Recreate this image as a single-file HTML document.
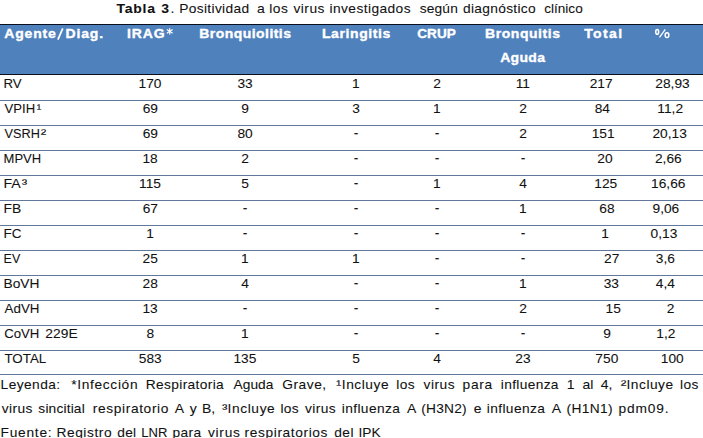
<!DOCTYPE html>
<html><head><meta charset="utf-8"><title>Tabla 3</title>
<style>
html,body{margin:0;padding:0;background:#fff;}
body{width:703px;height:438px;overflow:hidden;position:relative;font-family:"Liberation Sans",sans-serif;}
.hdr{position:absolute;left:0;top:25px;width:703px;height:49px;background:#4F81BD;}
.dk{position:absolute;left:0;width:703px;height:1px;background:#0a0f1e;}
.hl{position:absolute;left:0;width:703px;height:1px;background:#62789A;}
svg{position:absolute;left:0;top:0;}
svg text{font-family:"Liberation Sans",sans-serif;font-size:12.5px;fill:#111;stroke:#111;stroke-width:0.08px;}
svg text.w{fill:#fff;stroke:#fff;stroke-width:0.35px;}
</style></head><body>
<div class="hdr"></div>
<div class="dk" style="top:24px"></div>
<div class="dk" style="top:74px"></div>
<div class="hl" style="top:100px"></div><div class="hl" style="top:125px"></div><div class="hl" style="top:150px"></div><div class="hl" style="top:175px"></div><div class="hl" style="top:200px"></div><div class="hl" style="top:225px"></div><div class="hl" style="top:250px"></div><div class="hl" style="top:275px"></div><div class="hl" style="top:300px"></div><div class="hl" style="top:325px"></div><div class="hl" style="top:350px"></div><div class="hl" style="top:374px"></div>
<svg width="703" height="438" viewBox="0 0 703 438">
<g stroke="#fff" stroke-width="1.2"><line x1="169.7" y1="28.3" x2="169.7" y2="34.6"/><line x1="166.8" y1="29.6" x2="172.6" y2="33.2"/><line x1="172.6" y1="29.6" x2="166.8" y2="33.2"/></g>
<g fill="none" stroke="#fff"><ellipse cx="657.2" cy="31.9" rx="1.45" ry="2.35" stroke-width="1.55"/><ellipse cx="667" cy="35.15" rx="1.85" ry="2.3" stroke-width="1.5"/><line x1="665.3" y1="29.4" x2="659.5" y2="37.4" stroke-width="1.3"/></g>
<line x1="62.8" y1="28.3" x2="57.9" y2="39.7" stroke="#fff" stroke-width="1.7"/>
<text transform="translate(116.49 13.00) scale(1.1200 1)" font-weight="bold" letter-spacing="0.674">Tabla</text>
<text transform="translate(161.25 13.00) scale(1.1200 1)" font-weight="bold">3</text>
<text transform="translate(170.44 13.00) scale(1.1200 1)">.</text>
<text transform="translate(179.30 13.00) scale(1.1000 1)" letter-spacing="0.303">Positividad</text>
<text transform="translate(269.32 13.00) scale(1.1000 1)" letter-spacing="0.408">los</text>
<text transform="translate(293.40 13.00) scale(1.1000 1)" letter-spacing="0.469">virus</text>
<text transform="translate(329.52 13.00) scale(1.1000 1)" letter-spacing="0.383">investigados</text>
<text transform="translate(419.67 13.00) scale(1.1000 1)" letter-spacing="0.158">según</text>
<text transform="translate(463.05 13.00) scale(1.1000 1)" letter-spacing="0.280">diagnóstico</text>
<text transform="translate(544.26 13.00) scale(1.0847 1)">clínico</text>
<text transform="translate(256.90 13.00) scale(1.1200 1)">a</text>
<text transform="translate(4.36 38.00) scale(1.1200 1)" font-weight="bold" class="w" letter-spacing="0.693">Agente</text>
<text transform="translate(65.60 38.00) scale(1.1200 1)" font-weight="bold" class="w" letter-spacing="0.722">Diag.</text>
<text transform="translate(127.10 38.00) scale(1.1200 1)" font-weight="bold" class="w" letter-spacing="0.746">IRAG</text>
<text transform="translate(199.20 38.00) scale(1.1200 1)" font-weight="bold" class="w" letter-spacing="0.408">Bronquiolitis</text>
<text transform="translate(321.90 38.00) scale(1.1200 1)" font-weight="bold" class="w" letter-spacing="0.545">Laringitis</text>
<text transform="translate(417.25 38.00) scale(1.0902 1)" font-weight="bold" class="w">CRUP</text>
<text transform="translate(485.10 38.00) scale(1.1200 1)" font-weight="bold" class="w" letter-spacing="0.487">Bronquitis</text>
<text transform="translate(584.19 38.00) scale(1.1200 1)" font-weight="bold" class="w" letter-spacing="1.225">Total</text>
<text transform="translate(500.16 62.00) scale(1.1200 1)" font-weight="bold" class="w" letter-spacing="0.272">Aguda</text>
<text transform="translate(3.54 88.00) scale(1.0620 1)">RV</text>
<text transform="translate(138.58 88.00) scale(1.1000 1)">170</text>
<text transform="translate(237.48 88.00) scale(1.1000 1)">33</text>
<text transform="translate(351.99 88.00) scale(1.1000 1)">1</text>
<text transform="translate(433.15 88.00) scale(1.1000 1)">2</text>
<text transform="translate(515.67 88.00) scale(1.1000 1)">11</text>
<text transform="translate(589.70 88.00) scale(1.1000 1)">217</text>
<text transform="translate(655.31 88.00) scale(1.1000 1)">28,93</text>
<text transform="translate(4.60 113.00) scale(1.0496 1)">VPIH</text>
<text transform="translate(36.43 113.00) scale(1.1714 1)">¹</text>
<text transform="translate(142.63 113.00) scale(1.1000 1)">69</text>
<text transform="translate(241.31 113.00) scale(1.1000 1)">9</text>
<text transform="translate(352.20 113.00) scale(1.1000 1)">3</text>
<text transform="translate(432.99 113.00) scale(1.1000 1)">1</text>
<text transform="translate(519.15 113.00) scale(1.1000 1)">2</text>
<text transform="translate(594.67 113.00) scale(1.1000 1)">84</text>
<text transform="translate(657.34 113.00) scale(1.1000 1)">11,2</text>
<text transform="translate(4.60 138.00) scale(1.0177 1)">VSRH</text>
<text transform="translate(40.64 138.00) scale(1.3158 1)">²</text>
<text transform="translate(142.63 138.00) scale(1.1000 1)">69</text>
<text transform="translate(237.43 138.00) scale(1.1000 1)">80</text>
<text transform="translate(353.69 137.00) scale(1.1000 1)">-</text>
<text transform="translate(434.69 137.00) scale(1.1000 1)">-</text>
<text transform="translate(519.15 138.00) scale(1.1000 1)">2</text>
<text transform="translate(591.64 138.00) scale(1.1000 1)">151</text>
<text transform="translate(652.41 138.00) scale(1.1000 1)">20,13</text>
<text transform="translate(3.56 163.00) scale(1.0413 1)">MPVH</text>
<text transform="translate(142.41 163.00) scale(1.1000 1)">18</text>
<text transform="translate(241.25 163.00) scale(1.1000 1)">2</text>
<text transform="translate(353.69 162.00) scale(1.1000 1)">-</text>
<text transform="translate(434.69 162.00) scale(1.1000 1)">-</text>
<text transform="translate(520.69 162.00) scale(1.1000 1)">-</text>
<text transform="translate(597.27 163.00) scale(1.1000 1)">20</text>
<text transform="translate(654.94 163.00) scale(1.1000 1)">2,66</text>
<text transform="translate(3.46 188.00) scale(1.1362 1)">FA</text>
<text transform="translate(21.87 188.00) scale(1.3077 1)">³</text>
<text transform="translate(139.09 188.00) scale(1.1000 1)">115</text>
<text transform="translate(241.25 188.00) scale(1.1000 1)">5</text>
<text transform="translate(353.69 187.00) scale(1.1000 1)">-</text>
<text transform="translate(432.99 188.00) scale(1.1000 1)">1</text>
<text transform="translate(519.26 188.00) scale(1.1000 1)">4</text>
<text transform="translate(594.28 188.00) scale(1.1000 1)">125</text>
<text transform="translate(651.05 188.00) scale(1.1000 1)">16,66</text>
<text transform="translate(3.49 213.00) scale(1.1091 1)">FB</text>
<text transform="translate(142.63 213.00) scale(1.1000 1)">67</text>
<text transform="translate(242.79 212.00) scale(1.1000 1)">-</text>
<text transform="translate(353.69 212.00) scale(1.1000 1)">-</text>
<text transform="translate(434.69 212.00) scale(1.1000 1)">-</text>
<text transform="translate(518.99 213.00) scale(1.1000 1)">1</text>
<text transform="translate(599.27 213.00) scale(1.1000 1)">68</text>
<text transform="translate(652.49 213.00) scale(1.1000 1)">9,06</text>
<text transform="translate(3.52 238.00) scale(1.0830 1)">FC</text>
<text transform="translate(146.29 238.00) scale(1.1000 1)">1</text>
<text transform="translate(242.79 237.00) scale(1.1000 1)">-</text>
<text transform="translate(353.69 237.00) scale(1.1000 1)">-</text>
<text transform="translate(434.69 237.00) scale(1.1000 1)">-</text>
<text transform="translate(520.69 237.00) scale(1.1000 1)">-</text>
<text transform="translate(601.28 238.00) scale(1.1000 1)">1</text>
<text transform="translate(650.55 238.00) scale(1.1000 1)">0,13</text>
<text transform="translate(3.60 263.00) scale(0.9976 1)">EV</text>
<text transform="translate(142.57 263.00) scale(1.1000 1)">25</text>
<text transform="translate(241.08 263.00) scale(1.1000 1)">1</text>
<text transform="translate(351.99 263.00) scale(1.1000 1)">1</text>
<text transform="translate(434.69 262.00) scale(1.1000 1)">-</text>
<text transform="translate(520.69 262.00) scale(1.1000 1)">-</text>
<text transform="translate(604.03 263.00) scale(1.1000 1)">27</text>
<text transform="translate(655.77 263.00) scale(1.1000 1)">3,6</text>
<text transform="translate(3.50 288.00) scale(1.1000 1)" letter-spacing="0.030">BoVH</text>
<text transform="translate(142.57 288.00) scale(1.1000 1)">28</text>
<text transform="translate(241.36 288.00) scale(1.1000 1)">4</text>
<text transform="translate(353.69 287.00) scale(1.1000 1)">-</text>
<text transform="translate(434.69 287.00) scale(1.1000 1)">-</text>
<text transform="translate(518.99 288.00) scale(1.1000 1)">1</text>
<text transform="translate(603.68 288.00) scale(1.1000 1)">33</text>
<text transform="translate(655.83 288.00) scale(1.1000 1)">4,4</text>
<text transform="translate(4.60 313.00) scale(1.0685 1)">AdVH</text>
<text transform="translate(142.41 313.00) scale(1.1000 1)">13</text>
<text transform="translate(242.79 312.00) scale(1.1000 1)">-</text>
<text transform="translate(353.69 312.00) scale(1.1000 1)">-</text>
<text transform="translate(434.69 312.00) scale(1.1000 1)">-</text>
<text transform="translate(519.15 313.00) scale(1.1000 1)">2</text>
<text transform="translate(605.61 313.00) scale(1.1000 1)">15</text>
<text transform="translate(666.85 313.00) scale(1.1000 1)">2</text>
<text transform="translate(4.17 338.00) scale(1.0561 1)">CoVH</text>
<text transform="translate(45.24 338.00) scale(1.1000 1)" letter-spacing="0.072">229E</text>
<text transform="translate(146.45 338.00) scale(1.1000 1)">8</text>
<text transform="translate(241.08 338.00) scale(1.1000 1)">1</text>
<text transform="translate(353.69 337.00) scale(1.1000 1)">-</text>
<text transform="translate(434.69 337.00) scale(1.1000 1)">-</text>
<text transform="translate(520.69 337.00) scale(1.1000 1)">-</text>
<text transform="translate(603.21 338.00) scale(1.1000 1)">9</text>
<text transform="translate(656.35 338.00) scale(1.1000 1)">1,2</text>
<text transform="translate(4.39 363.00) scale(1.0706 1)">TOTAL</text>
<text transform="translate(138.80 363.00) scale(1.1000 1)">583</text>
<text transform="translate(233.38 363.00) scale(1.1000 1)">135</text>
<text transform="translate(352.15 363.00) scale(1.1000 1)">5</text>
<text transform="translate(433.26 363.00) scale(1.1000 1)">4</text>
<text transform="translate(515.27 363.00) scale(1.1000 1)">23</text>
<text transform="translate(595.35 363.00) scale(1.1000 1)">750</text>
<text transform="translate(660.78 363.00) scale(1.1000 1)">100</text>
<text transform="translate(0.60 389.00) scale(1.1000 1)" letter-spacing="0.390">Leyenda:</text>
<text transform="translate(71.18 389.00) scale(1.1000 1)" letter-spacing="0.612">*Infección</text>
<text transform="translate(145.70 389.00) scale(1.1000 1)" letter-spacing="0.332">Respiratoria</text>
<text transform="translate(233.60 389.00) scale(1.0997 1)">Aguda</text>
<text transform="translate(282.24 389.00) scale(1.1000 1)" letter-spacing="0.487">Grave,</text>
<text transform="translate(336.09 389.00) scale(1.2857 1)">¹</text>
<text transform="translate(341.79 389.00) scale(1.1000 1)" letter-spacing="0.493">Incluye</text>
<text transform="translate(396.22 389.00) scale(1.1000 1)" letter-spacing="0.408">los</text>
<text transform="translate(423.60 389.00) scale(1.1000 1)" letter-spacing="0.446">virus</text>
<text transform="translate(462.52 389.00) scale(1.1000 1)" letter-spacing="0.669">para</text>
<text transform="translate(500.82 389.00) scale(1.1000 1)" letter-spacing="0.305">influenza</text>
<text transform="translate(566.76 389.00) scale(1.1200 1)">1</text>
<text transform="translate(582.56 389.00) scale(1.1200 1)">al</text>
<text transform="translate(600.80 389.00) scale(1.1200 1)">4,</text>
<text transform="translate(620.83 389.00) scale(1.3421 1)">²</text>
<text transform="translate(626.49 389.00) scale(1.1000 1)" letter-spacing="0.477">Incluye</text>
<text transform="translate(680.12 389.00) scale(1.1000 1)" letter-spacing="0.317">los</text>
<text transform="translate(1.70 413.00) scale(1.1000 1)" letter-spacing="0.401">virus</text>
<text transform="translate(38.37 413.00) scale(1.1000 1)" letter-spacing="0.148">sincitial</text>
<text transform="translate(92.72 413.00) scale(1.1000 1)" letter-spacing="0.579">respiratorio</text>
<text transform="translate(174.80 413.00) scale(1.1200 1)">A</text>
<text transform="translate(189.67 413.00) scale(1.1200 1)">y</text>
<text transform="translate(201.88 413.00) scale(1.1200 1)">B,</text>
<text transform="translate(221.97 413.00) scale(1.3077 1)">³</text>
<text transform="translate(227.49 413.00) scale(1.1000 1)" letter-spacing="0.568">Incluye</text>
<text transform="translate(280.52 413.00) scale(1.1000 1)" letter-spacing="0.272">los</text>
<text transform="translate(304.90 413.00) scale(1.1000 1)" letter-spacing="0.378">virus</text>
<text transform="translate(341.72 413.00) scale(1.1000 1)" letter-spacing="0.362">influenza</text>
<text transform="translate(406.90 413.00) scale(1.1200 1)">A</text>
<text transform="translate(421.33 413.00) scale(1.1000 1)" letter-spacing="0.200">(H3N2)</text>
<text transform="translate(473.69 413.00) scale(1.1200 1)">e</text>
<text transform="translate(486.72 413.00) scale(1.1000 1)" letter-spacing="0.362">influenza</text>
<text transform="translate(551.70 413.00) scale(1.1200 1)">A</text>
<text transform="translate(566.53 413.00) scale(1.1000 1)" letter-spacing="0.345">(H1N1)</text>
<text transform="translate(618.62 413.00) scale(1.1000 1)" letter-spacing="0.763">pdm09.</text>
<text transform="translate(0.60 437.00) scale(1.1000 1)" letter-spacing="0.675">Fuente:</text>
<text transform="translate(56.50 437.00) scale(1.1000 1)" letter-spacing="0.506">Registro</text>
<text transform="translate(117.25 437.00) scale(1.1000 1)" letter-spacing="0.253">del</text>
<text transform="translate(141.36 437.00) scale(1.0435 1)">LNR</text>
<text transform="translate(172.42 437.00) scale(1.1000 1)" letter-spacing="0.335">para</text>
<text transform="translate(207.90 437.00) scale(1.1000 1)" letter-spacing="0.696">virus</text>
<text transform="translate(244.62 437.00) scale(1.1000 1)" letter-spacing="0.547">respiratorios</text>
<text transform="translate(334.35 437.00) scale(1.1000 1)" letter-spacing="0.344">del</text>
<text transform="translate(358.50 437.00) scale(1.0946 1)">IPK</text>
</svg>
</body></html>
